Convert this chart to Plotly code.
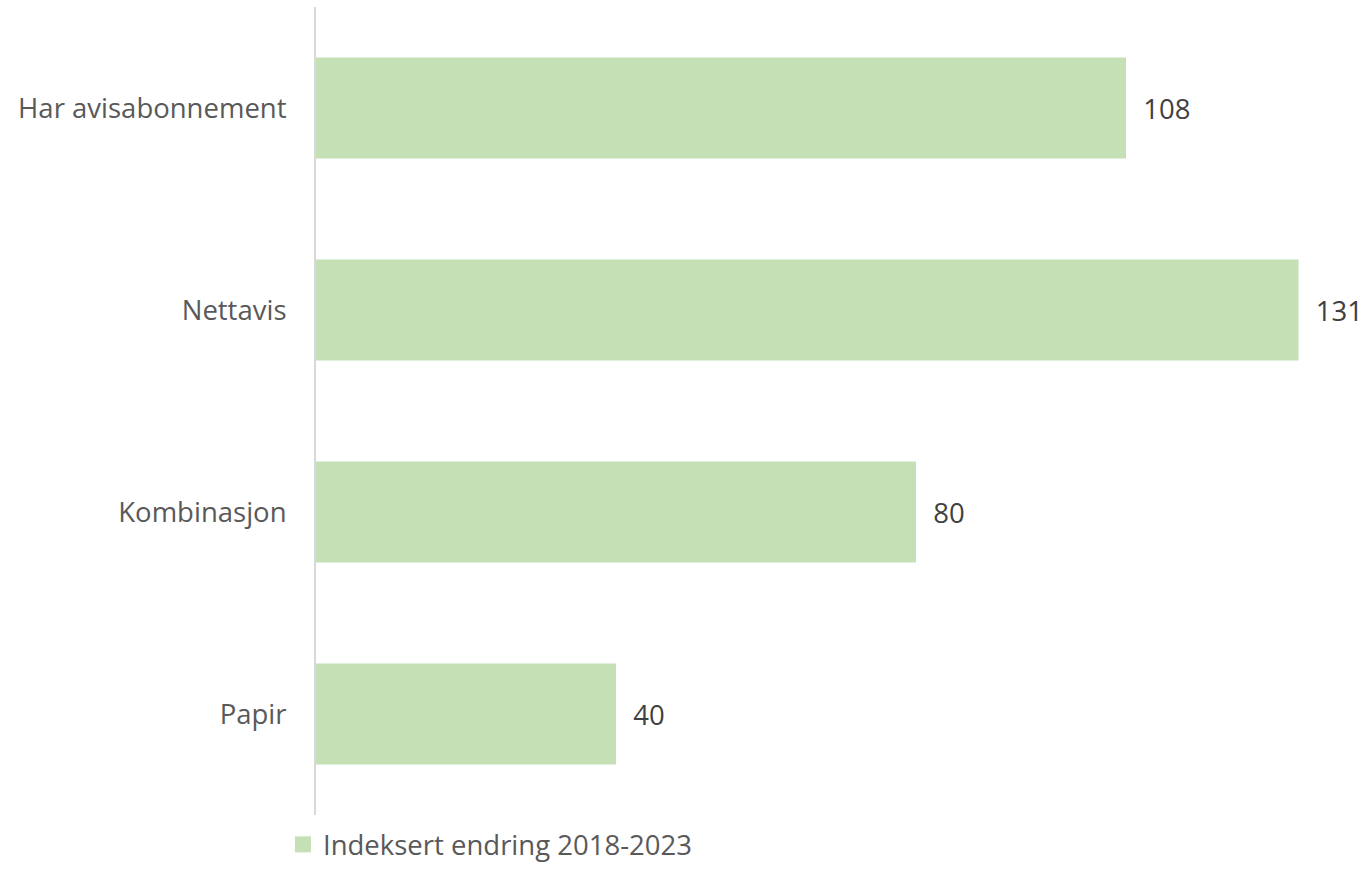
import plotly.graph_objects as go

categories = ["Har avisabonnement", "Nettavis", "Kombinasjon", "Papir"]
values = [108, 131, 80, 40]
series_name = "Indeksert endring 2018-2023"
bar_color = "#C5E0B4"

fig = go.Figure()
fig.add_trace(go.Bar(
    y=categories, x=values, orientation="h", name=series_name,
    marker=dict(color=bar_color, line=dict(width=0)),
    width=0.5,
    text=values, texttemplate="  %{x}", textposition="outside",
    textfont=dict(family="Open Sans", size=27.5, color="#404040"),
    cliponaxis=False, showlegend=False,
))
# legend entry with a larger square swatch
fig.add_trace(go.Scatter(
    x=[None], y=[None], mode="markers", name=series_name,
    marker=dict(symbol="square", size=18, color=bar_color),
    showlegend=True,
))

fig.update_layout(
    width=1367, height=869,
    margin=dict(l=316, r=0, t=7, b=54),
    paper_bgcolor="white", plot_bgcolor="white",
    font=dict(family="Open Sans", size=27.5, color="#595959"),
    bargap=0.5,
    xaxis=dict(range=[0, 140.13], showgrid=False, zeroline=False,
               showticklabels=False, showline=False, fixedrange=True),
    yaxis=dict(autorange="reversed", showgrid=False, zeroline=False,
               showline=True, linecolor="#D9D9D9", linewidth=2,
               ticks="", ticklabelstandoff=22,
               tickfont=dict(family="Open Sans", size=27.5, color="#595959")),
    showlegend=True,
    legend=dict(orientation="h", xref="container", yref="container",
                x=283/1367, y=-6/869, xanchor="left", yanchor="bottom",
                font=dict(family="Open Sans", size=27.5, color="#595959"),
                itemwidth=30, bgcolor="rgba(0,0,0,0)", borderwidth=0),
)

fig.write_html("out.html")
